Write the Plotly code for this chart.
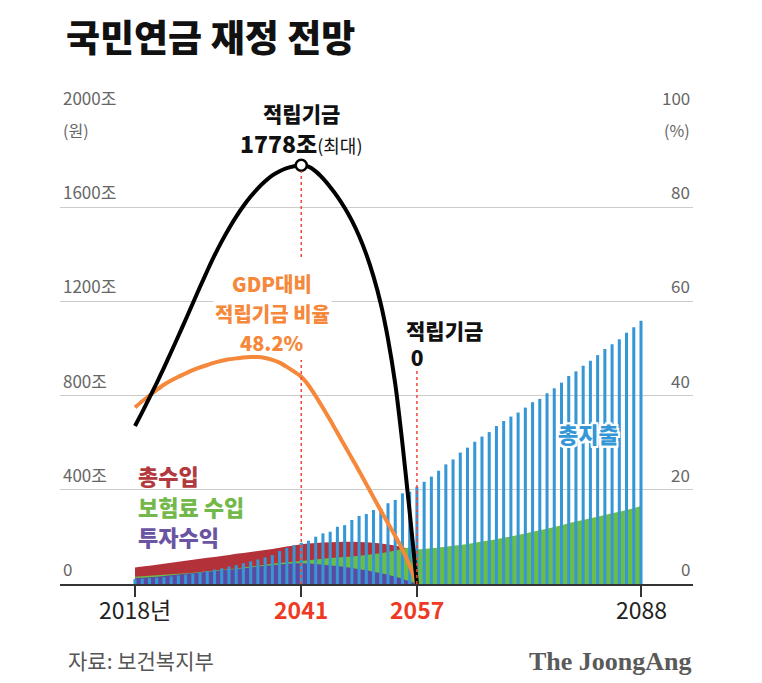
import plotly.graph_objects as go

# ---------------- data ----------------
years = list(range(2018, 2089))
years_fund = list(range(2018, 2058))

# 총지출 (trillion won) 2018-2088
expenditure = [21, 23, 25, 27, 29, 32, 36, 40, 44, 49, 55, 61, 67, 74, 80, 88, 96, 104,
               113, 123, 140, 153, 165, 175,
               184, 201, 215, 222, 243, 250, 272, 289, 297, 314, 321, 343, 357, 385, 392,
               413, 434, 456, 481, 508, 529, 558, 579, 604, 626, 645, 671, 692, 711, 728,
               749, 772, 786, 810, 831, 855, 883, 903, 927, 948, 972, 998, 1018, 1039,
               1067, 1090, 1118]

# 보험료 수입 2018-2088
contributions = [31, 33, 35, 37, 39, 41, 43, 46, 48, 51, 54, 57, 60, 63, 66, 70, 74, 78,
                 82, 86, 89, 92, 95, 98, 101, 104, 107, 110, 112, 115, 117, 120, 123, 127,
                 131, 136, 142, 150, 155,
                 147, 149, 152, 155, 158, 162, 166, 170, 175, 180, 185, 190, 196, 202, 208,
                 214, 222, 228, 235, 242, 250, 258, 265, 272, 279, 286, 293, 300, 307, 314,
                 322, 331]

# 총수입 2018-2057
total_income = [70, 74, 78, 82, 86, 90, 94, 99, 103, 107, 111, 115, 119, 123, 128, 132,
                136, 140, 144, 149, 154, 159, 164, 169, 172, 174, 176, 177, 178, 179, 179,
                178, 177, 175, 172, 168, 163, 156, 150, 148]

# 투자수익 2018-2057
investment = [25, 27, 29, 31, 34, 37, 40, 43, 46, 49, 52, 55, 58, 61, 64, 67, 70, 74, 77,
              80, 83, 86, 88, 88, 87, 85, 82, 79, 76, 72, 68, 63, 58, 52, 46, 39, 31, 22,
              11, 0]

# 적립기금 (trillion won) 2018-2057
fund = [671, 730, 791, 853, 918, 985, 1053, 1122, 1192, 1262, 1330, 1395, 1455, 1510,
        1560, 1605, 1645, 1680, 1710, 1735, 1753, 1766, 1774, 1778, 1772, 1752, 1722,
        1686, 1645, 1598, 1543, 1478, 1400, 1305, 1190, 1040, 850, 595, 305, 0]

# GDP대비 적립기금 비율 (%) 2018-2057
gdp_ratio = [37.5, 38.8, 40.0, 41.2, 42.3, 43.2, 44.0, 44.7, 45.4, 46.0,
             46.5, 47.0, 47.4, 47.7, 47.9, 48.1, 48.2, 48.2, 48.0, 47.6,
             47.0, 46.1, 45.1, 44.0, 42.2, 39.9, 37.4, 34.8, 32.1, 29.4,
             26.7, 24.0, 21.2, 18.4, 15.6, 12.9, 10.2, 7.3, 3.9, 0]

left_ticks = [0, 400, 800, 1200, 1600, 2000]
left_labels = ["0", "400조", "800조", "1200조", "1600조", "2000조"]
right_ticks = [0, 20, 40, 60, 80, 100]
right_labels = ["0", "20", "40", "60", "80", "100"]
x_ticks = [2018, 2041, 2057, 2088]
x_labels = ["2018년", "2041", "2057", "2088"]
x_label_colors = ["#222222", "#ee3a24", "#ee3a24", "#222222"]
x_label_weights = [400, 700, 700, 400]

peak_year, peak_value = 2041, 1778
zero_year = 2057

# ---------------- styling ----------------
W, H = 762, 683
ML, MR, MT, MB = 60, 69, 113, 99
PW, PH = W - ML - MR, H - MT - MB
FONT = "Noto Sans CJK KR"
RED = "#b3323a"
GREEN = "#6cbd45"
PURPLE = "#5b4ba0"
BLUE = "#3597d6"
ORANGE = "#f5883a"
DOT_RED = "#f0483a"
PXY = 506 / 70          # pixels per year
PXV = 471 / 2000        # pixels per trillion won

X0 = 2018 - (135 - ML) / PXY
X1 = 2088 + (ML + PW - 641) / PXY


def px(xp):
    return (xp - ML) / PW


def py(yp):
    return (H - MB - yp) / PH


def yr(xp):
    return 2018 + (xp - 135) / PXY


def val(yp):
    return (H - MB - yp) / PXV


fig = go.Figure()

# areas (main y axis)
fig.add_trace(go.Scatter(x=years_fund, y=total_income, fill="tozeroy", mode="none",
                         fillcolor=RED, yaxis="y"))
fig.add_trace(go.Scatter(x=years, y=contributions, fill="tozeroy", mode="none",
                         fillcolor=GREEN, yaxis="y"))
fig.add_trace(go.Scatter(x=years_fund, y=investment, fill="tozeroy", mode="none",
                         fillcolor=PURPLE, yaxis="y"))
# bars on overlay axis so they sit above areas
fig.add_trace(go.Bar(x=years, y=expenditure, width=0.42, marker_color=BLUE,
                     marker_line_width=0, yaxis="y2"))
# GDP ratio line
fig.add_trace(go.Scatter(x=years_fund, y=gdp_ratio, mode="lines",
                         line=dict(color=ORANGE, width=4, shape="spline", smoothing=0.6),
                         yaxis="y3"))
# fund line
fig.add_trace(go.Scatter(x=years_fund, y=fund, mode="lines",
                         line=dict(color="black", width=4, shape="spline", smoothing=0.6),
                         yaxis="y4"))
fig.add_trace(go.Scatter(x=[peak_year], y=[peak_value], mode="markers",
                         marker=dict(size=11, color="white",
                                     line=dict(color="black", width=2.5)),
                         yaxis="y4"))

dot = dict(color=DOT_RED, width=1.5, dash="dot")
shapes = [
    dict(type="line", xref="x", yref="y", x0=peak_year, x1=peak_year, y0=val(257),
         y1=peak_value - 25, line=dot, layer="above"),
    dict(type="line", xref="x", yref="y", x0=peak_year, x1=peak_year, y0=0,
         y1=val(360), line=dot, layer="above"),
    dict(type="line", xref="x", yref="y", x0=zero_year, x1=zero_year, y0=0,
         y1=val(369), line=dot, layer="above"),
]

ann = []
for v, lab in zip(left_ticks, left_labels):
    ann.append(dict(xref="paper", yref="y", x=0, y=v, xanchor="left", yanchor="bottom",
                    xshift=1, yshift=1, text=lab, showarrow=False,
                    font=dict(family=FONT, size=17, color="#666666")))
for v, lab in zip(right_ticks, right_labels):
    ann.append(dict(xref="paper", yref="y3", x=1, y=v, xanchor="right", yanchor="bottom",
                    xshift=-1, yshift=1, text=lab, showarrow=False,
                    font=dict(family=FONT, size=17, color="#666666")))
ann.append(dict(xref="paper", yref="y", x=0, y=2000, xanchor="left", yanchor="top",
                xshift=1, yshift=-3, text="(원)", showarrow=False,
                font=dict(family=FONT, size=16, color="#666666")))
ann.append(dict(xref="paper", yref="y3", x=1, y=100, xanchor="right", yanchor="top",
                xshift=-1, yshift=-3, text="(%)", showarrow=False,
                font=dict(family=FONT, size=16, color="#666666")))

for v, lab, c, w in zip(x_ticks, x_labels, x_label_colors, x_label_weights):
    ann.append(dict(xref="x", yref="paper", x=v, y=py(609), xanchor="center",
                    yanchor="middle", text=lab, showarrow=False,
                    font=dict(family=FONT, size=23, color=c, weight=w)))

# title, source, logo
ann.append(dict(xref="paper", yref="paper", x=px(64), y=py(36), xanchor="left",
                yanchor="middle", text="국민연금 재정 전망", showarrow=False,
                font=dict(family=FONT, size=37, color="#111111", weight=900)))
ann.append(dict(xref="paper", yref="paper", x=px(66), y=py(660), xanchor="left",
                yanchor="middle", text="자료: 보건복지부", showarrow=False,
                font=dict(family=FONT, size=21, color="#555555")))
ann.append(dict(xref="paper", yref="paper", x=px(694), y=py(661), xanchor="right",
                yanchor="middle", text="The JoongAng", showarrow=False,
                font=dict(family="Liberation Serif", size=26, color="#5a5a5a",
                          weight=700)))

# peak label
ann.append(dict(xref="x", yref="paper", x=peak_year, y=py(113), xanchor="center",
                yanchor="middle", text="적립기금", showarrow=False,
                bgcolor="white", borderpad=1,
                font=dict(family=FONT, size=21, color="#111111", weight=900)))
ann.append(dict(xref="x", yref="paper", x=peak_year, y=py(143), xanchor="center",
                yanchor="middle",
                text="1778조<span style='font-size:18px;font-weight:400'>(최대)</span>",
                showarrow=False,
                font=dict(family=FONT, size=23, color="#111111", weight=900)))

# GDP ratio label
for txt, yp, bg in [("GDP대비", 283, "white"), ("적립기금 비율", 313, "white"),
                    ("48.2%", 342, "rgba(0,0,0,0)")]:
    ann.append(dict(xref="x", yref="paper", x=yr(272), y=py(yp), xanchor="center",
                    yanchor="middle", text=txt, showarrow=False,
                    bgcolor=bg, borderpad=1,
                    font=dict(family=FONT, size=20, color=ORANGE, weight=900)))

# fund zero label
ann.append(dict(xref="x", yref="paper", x=yr(397) + (zero_year - yr(410)),
                y=py(343), xanchor="left", yanchor="middle",
                text="적립기금<br>&nbsp;0", align="left", showarrow=False,
                font=dict(family=FONT, size=21, color="#111111", weight=900)))

# 총지출 label with white halo
halo = ("2px 0 0 white, -2px 0 0 white, 0 2px 0 white, 0 -2px 0 white, "
        "2px 2px 0 white, -2px -2px 0 white, 2px -2px 0 white, -2px 2px 0 white")
ann.append(dict(xref="x", yref="paper", x=yr(588), y=py(433),
                xanchor="center", yanchor="middle", text="총지출", showarrow=False,
                font=dict(family=FONT, size=22, color=BLUE, shadow=halo, weight=900)))

# series labels
for txt, yp, c in [("총수입", 475, "#b23a3f"), ("보험료 수입", 506, "#72b84a"),
                   ("투자수익", 536, "#6b55a3")]:
    ann.append(dict(xref="paper", yref="paper", x=px(136), y=py(yp), xanchor="left",
                    yanchor="middle", text=txt, showarrow=False,
                    font=dict(family=FONT, size=22, color=c, weight=900)))

fig.update_layout(
    width=W, height=H,
    margin=dict(l=ML, r=MR, t=MT, b=MB, pad=0),
    paper_bgcolor="white", plot_bgcolor="white",
    showlegend=False,
    barmode="overlay",
    xaxis=dict(range=[X0, X1], showgrid=False, zeroline=False, showline=True,
               linecolor="#333333", linewidth=1.5, ticks="outside",
               tickvals=x_ticks, ticklen=11, tickwidth=1.5, tickcolor="#333333",
               showticklabels=False),
    yaxis=dict(range=[0, 2000], tickvals=left_ticks, showticklabels=False,
               gridcolor="#cccccc", gridwidth=1, zeroline=False, showline=False),
    yaxis2=dict(range=[0, 2000], overlaying="y", visible=False),
    yaxis3=dict(range=[0, 100], overlaying="y", visible=False),
    yaxis4=dict(range=[0, 2000], overlaying="y", visible=False),
    shapes=shapes,
    annotations=ann,
    font=dict(family=FONT),
)

fig.write_html("out.html")
